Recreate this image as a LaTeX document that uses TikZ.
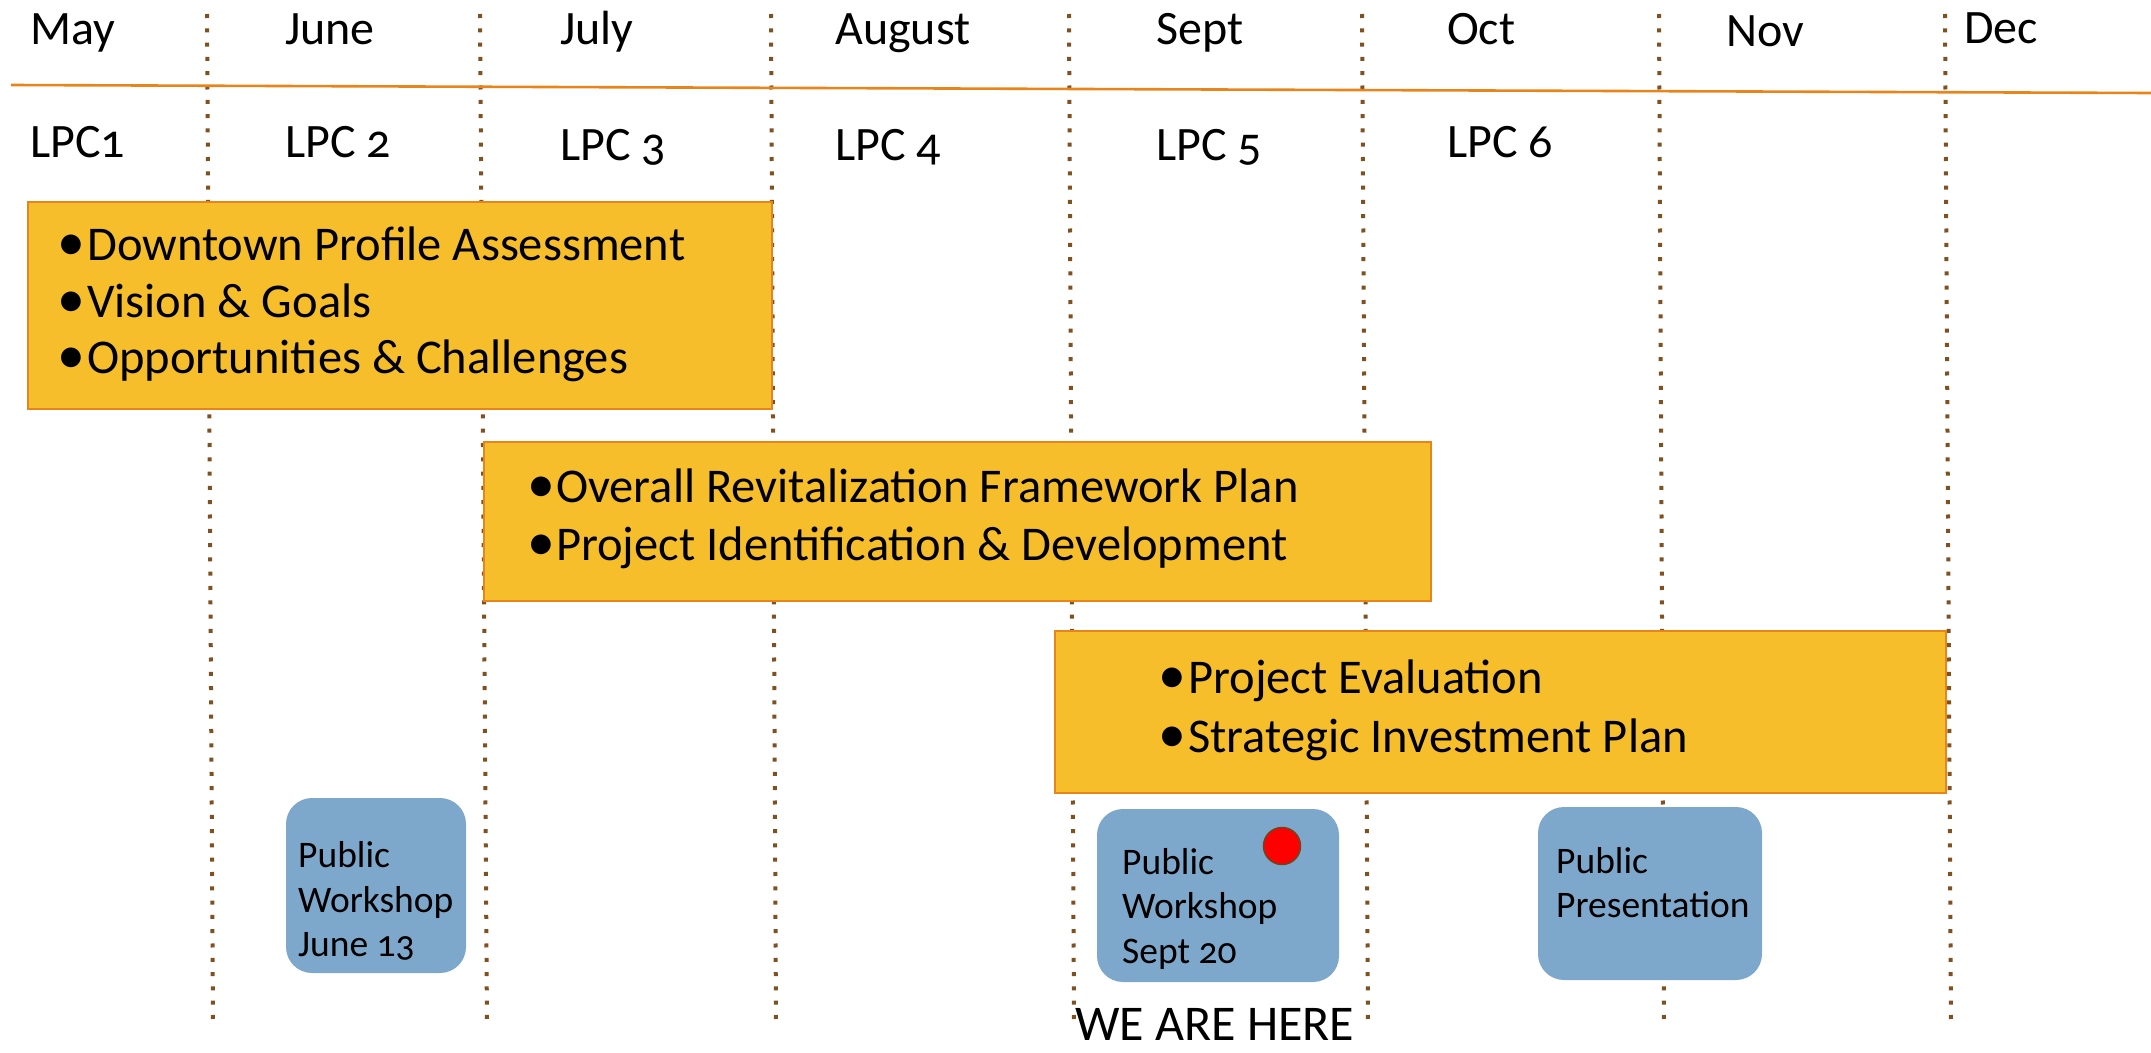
\documentclass[tikz,border=0pt]{standalone}
\usepackage{fontspec}
\setmainfont{Carlito}[Numbers=OldStyle]
\newcommand{\blt}[1]{\makebox[#1][l]{\scalebox{1.15}{\textbullet}}}
\begin{document}
\begin{tikzpicture}[x=1pt,y=-1pt,
  dotline/.style={draw={rgb,255:red,127;green,80;blue,32}, line width=4pt, dash pattern=on 4pt off 10.3pt},
  timeline/.style={draw={rgb,255:red,232;green,132;blue,26}, line width=2.6pt},
  lbl/.style={inner sep=0pt, anchor=base west, font=\fontsize{48}{56}\selectfont},
  ybox/.style={draw={rgb,255:red,232;green,132;blue,26}, line width=2pt, fill={rgb,255:red,245;green,190;blue,42}},
  item/.style={inner sep=0pt, anchor=base west, font=\fontsize{48.5}{56}\selectfont},
  bbox/.style={fill={rgb,255:red,126;green,168;blue,203}, rounded corners=26pt},
  btxt/.style={inner sep=0pt, anchor=base west, font=\fontsize{37.5}{44}\selectfont},
]
\useasboundingbox (0,0) rectangle (2151,1052);

% month separators
\foreach \xa/\xb in {207/213,480/487,771/776,1069/1074,1362/1368,1659/1664,1945/1951}
  \draw[dotline] (\xa,14) -- (\xb,1026);

% timeline axis
\coordinate (axL) at (11,85);
\coordinate (axR) at (2151,93);
\draw[timeline] (axL) -- (axR);

% months
\node[lbl] (may) at (30,44) {May};
\node[lbl] (jun) at (285,44) {June};
\node[lbl] (jul) at (560,44) {July};
\node[lbl] (aug) at (835,44) {August};
\node[lbl] (sep) at (1156,44) {Sept};
\node[lbl] (oct) at (1447,44) {Oct};
\node[lbl] (nov) at (1726,46) {Nov};
\node[lbl] (dec) at (1964,43) {Dec};

% meetings
\node[lbl] (lpc1) at (30,157) {LPC1};
\node[lbl] (lpc2) at (285,157) {LPC 2};
\node[lbl] (lpc3) at (560,160) {LPC 3};
\node[lbl] (lpc4) at (835,160) {LPC 4};
\node[lbl] (lpc5) at (1156,160) {LPC 5};
\node[lbl] (lpc6) at (1447,157) {LPC 6};

% phase boxes
\draw[ybox] (28,202) rectangle (772,409);
\node[item] (p1a) at (57,260) {\blt{30pt}Downtown Profile Assessment};
\node[item] (p1b) at (57,317) {\blt{30pt}Vision \& Goals};
\node[item] (p1c) at (57,373) {\blt{30pt}Opportunities \& Challenges};

\draw[ybox] (484,442) rectangle (1431,601);
\node[item] (p2a) at (527,502) {\blt{29pt}Overall Revitalization Framework Plan};
\node[item] (p2b) at (527,560) {\blt{29pt}Project Identification \& Development};

\draw[ybox] (1055,631) rectangle (1946,793);
\node[item] (p3a) at (1158,693) {\blt{30pt}Project Evaluation};
\node[item] (p3b) at (1158,752) {\blt{30pt}Strategic Investment Plan};

% public events
\fill[bbox] (286,798) rectangle (466,973);
\node[btxt] (w1a) at (298,867) {Public};
\node[btxt] (w1b) at (298,912) {Workshop};
\node[btxt] (w1c) at (298,956) {June 13};

\fill[bbox] (1097,809) rectangle (1339,982);
\node[btxt] (w2a) at (1122,874) {Public};
\node[btxt] (w2b) at (1122,918) {Workshop};
\node[btxt] (w2c) at (1122,963) {Sept 20};
\node[circle, minimum size=37pt, inner sep=0pt, fill=red, draw={rgb,255:red,110;green,70;blue,30}, line width=1.5pt] (here) at (1282,846) {};

\fill[bbox] (1538,807) rectangle (1762,980);
\node[btxt] (w3a) at (1556,873) {Public};
\node[btxt] (w3b) at (1556,917) {Presentation};

\node[inner sep=0pt, anchor=base west, font=\fontsize{50}{56}\selectfont] (weare) at (1075,1040) {WE ARE HERE};
\end{tikzpicture}
\end{document}
